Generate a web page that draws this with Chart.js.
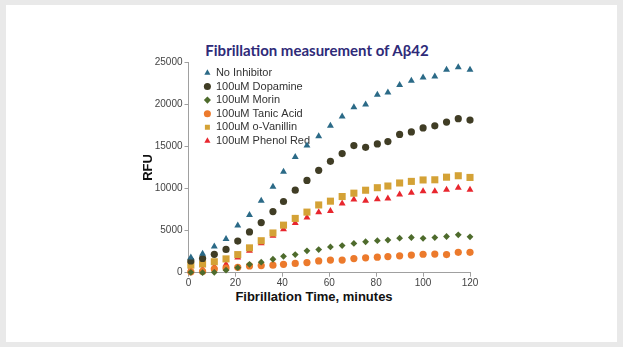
<!DOCTYPE html>
<html>
<head>
<meta charset="utf-8">
<script src="https://cdn.jsdelivr.net/npm/chart.js@4.4.0/dist/chart.umd.min.js"></script>
<style>
  html, body { margin: 0; padding: 0; }
  body { width: 623px; height: 347px; background: #e9e9e9; position: relative; overflow: hidden; }
  #panel { position: absolute; left: 6px; top: 5px; width: 611px; height: 337px; background: #fff; }
  #chartBox { position: absolute; left: 0; top: 0; width: 623px; height: 347px; }
  #titulo { position: absolute; left: 117px; width: 400px; top: 41px; text-align: center;
            font: bold 15px Lato, sans-serif; color: #2e2a78; }
  #tituloX { position: absolute; left: 164px; width: 300px; top: 289px; text-align: center;
             font: bold 13px 'Liberation Sans', Arial, sans-serif; color: #111; }
</style>
</head>
<body>
<div id="panel"></div>
<div id="titulo">Fibrillation measurement of Aβ42</div>
<div id="tituloX">Fibrillation Time, minutes</div>
<div id="chartBox"><canvas id="grafico"></canvas></div>
<script>
// tiempos de medida (minutos)
const tiempos = [1, 6, 11, 16, 21, 26, 31, 36, 40.5, 45.5, 50.5, 55.5, 60.5, 65.5, 70.5, 75.5, 80.5, 85, 90, 95, 100, 105, 110, 115, 120];

const noInhibitor = [1800, 2250, 3100, 4000, 5600, 6850, 8550, 10200, 12000, 13750, 15100, 16200, 17450, 18550, 19650, 20000, 21150, 21400, 22300, 22800, 23200, 23300, 24100, 24400, 24100];
const dopamine = [1400, 1700, 2180, 2770, 3760, 4840, 5960, 7260, 8460, 9800, 10960, 12160, 13230, 14150, 15100, 14900, 15300, 15580, 16430, 16730, 17200, 17450, 17900, 18300, 18130];
const morin = [50, 0, 50, 300, 600, 1000, 1250, 1600, 1950, 2150, 2600, 2750, 3060, 3220, 3480, 3680, 3800, 3880, 4100, 4180, 4080, 4170, 4300, 4500, 4260];
const tanicAcid = [100, 150, 450, 550, 650, 800, 850, 900, 1000, 1100, 1200, 1400, 1500, 1500, 1680, 1770, 1840, 1920, 2010, 2100, 2190, 2210, 2150, 2420, 2420];
const oVanillin = [900, 1030, 1300, 1640, 2150, 2950, 3800, 4720, 5650, 6450, 7200, 8050, 8500, 9050, 9450, 9800, 10100, 10300, 10660, 10850, 11020, 11040, 11350, 11520, 11320];
const phenolRed = [250, 400, 700, 1000, 1800, 2600, 3500, 4380, 5150, 5900, 6560, 7170, 7330, 8220, 8700, 8560, 8720, 8830, 9280, 9500, 9680, 9690, 9850, 10100, 9850];

const etiquetas = ['No Inhibitor', '100uM Dopamine', '100uM Morin', '100uM Tanic Acid', '100uM o-Vanillin', '100uM Phenol Red'];
const xTicks = [0, 20, 40, 60, 80, 100, 120];
const yTicks = [0, 5000, 10000, 15000, 20000, 25000];

function puntos(serie) {
  return serie.map((v, i) => ({ x: tiempos[i], y: v }));
}

function serie(i, valores, color, estilo, radio) {
  return {
    label: etiquetas[i],
    data: puntos(valores),
    backgroundColor: color,
    borderColor: color,
    borderWidth: 0,
    pointStyle: estilo,
    pointRadius: radio,
    pointHoverRadius: radio,
    showLine: false,
    clip: false
  };
}

// mueve la leyenda dentro del area del grafico
const moverLeyenda = {
  id: 'moverLeyenda',
  afterLayout(chart) {
    const a = chart.chartArea;
    const l = chart.legend;
    const w = l.width, h = l.height;
    l.left = a.left + 13.3;
    l.top = a.top + 2.5;
    l.right = l.left + w;
    l.bottom = l.top + h;
  }
};

const gris = '#a0a0a0';
const fuente = "'Liberation Sans', Arial, sans-serif";

new Chart(document.getElementById('grafico'), {
  type: 'scatter',
  data: {
    datasets: [
      serie(0, noInhibitor, '#2b6a87', 'triangle', 4),
      serie(1, dopamine, '#403d25', 'circle', 3.6),
      serie(2, morin, '#4e6b2c', 'rectRot', 3.4),
      serie(3, tanicAcid, '#ec7a2c', 'circle', 3.6),
      serie(4, oVanillin, '#d4a236', 'rect', 5),
      serie(5, phenolRed, '#e8262e', 'triangle', 4)
    ]
  },
  options: {
    responsive: true,
    maintainAspectRatio: false,
    animation: false,
    layout: { padding: { left: 130, top: 62.3, right: 153, bottom: 34.3 } },
    plugins: {
      title: { display: false },
      tooltip: { enabled: false },
      legend: {
        position: 'chartArea',
        align: 'start',
        labels: {
          usePointStyle: true,
          boxWidth: 6,
          boxHeight: 5,
          padding: 2.6,
          color: '#333',
          font: { family: fuente, size: 11 }
        }
      }
    },
    scales: {
      x: {
        type: 'linear',
        min: 0,
        max: 120,
        afterBuildTicks: s => { s.ticks = xTicks.map(v => ({ value: v })); },
        afterFit: s => { s.height = 40; },
        grid: { display: true, drawOnChartArea: false, drawTicks: true, tickLength: 4, color: gris },
        border: { color: gris },
        ticks: { color: '#444', padding: 1, font: { family: fuente, size: 10 }, maxRotation: 0, callback: v => String(v) }
      },
      y: {
        min: 0,
        max: 25000,
        afterBuildTicks: s => { s.ticks = yTicks.map(v => ({ value: v })); },
        afterFit: s => { s.width = 58.5; },
        grid: { display: true, drawOnChartArea: false, drawTicks: true, tickLength: 4, color: gris },
        border: { color: gris },
        ticks: { color: '#444', padding: 2, font: { family: fuente, size: 10 }, callback: v => String(v) },
        title: {
          display: true,
          text: 'RFU',
          color: '#111',
          padding: { top: 11, bottom: 0 },
          font: { family: fuente, size: 13, weight: 'bold' }
        }
      }
    }
  },
  plugins: [moverLeyenda]
});
</script>
</body>
</html>
